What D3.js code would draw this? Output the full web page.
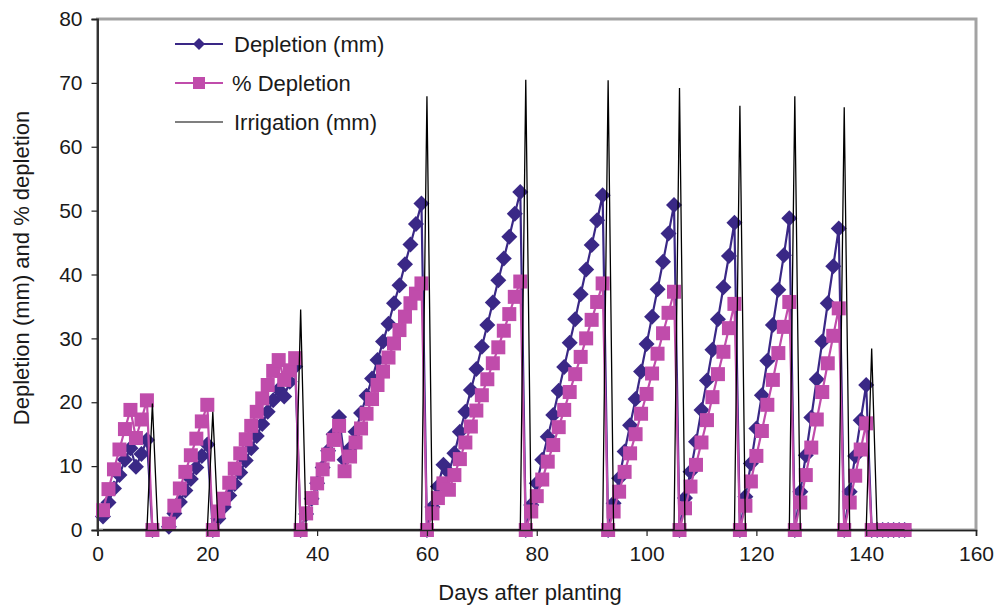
<!DOCTYPE html>
<html>
<head>
<meta charset="utf-8">
<script src="https://cdn.jsdelivr.net/npm/d3@7"></script>
<style>
  html, body { margin: 0; padding: 0; background: #fff; }
  svg { display: block; }
  text { font-family: "Liberation Sans", Arial, sans-serif; fill: #1a1a1a; }
</style>
</head>
<body>
<svg id="chart" width="1005" height="606"></svg>
<script>
// ---------------- DATA ----------------
const firstDay = 1;
const lastDay = 147;
// Depletion (mm), one value per day from day 1 to day 147 (null = no value)
const depletionMM = [
  2.1, 4.3, 6.5, 8.6, 11.0, 12.8, 9.9, 11.9, 14.1, 0,           // 1-10
  null, null, 0.5, 2.6, 4.4, 6.2, 8.0, 9.8, 11.6, 13.4,         // 11-20
  0, 1.8, 3.6, 5.4, 7.2, 9.0, 10.9, 12.8, 14.7, 16.6,           // 21-30
  18.5, 20.3, 22.0, 20.9, 23.2, 25.6, 0, 2.5, 4.9, 7.3,         // 31-40
  9.8, 12.4, 15.0, 17.7, 11.0, 12.8, 15.4, 18.3, 21.0, 23.7,    // 41-50
  26.6, 29.5, 32.3, 35.5, 38.3, 41.6, 44.7, 47.9, 51.1, 0,      // 51-60
  3.6, 6.8, 10.2, 9.0, 12.0, 15.4, 18.5, 21.9, 25.2, 28.7,      // 61-70
  32.1, 35.6, 39.1, 42.5, 45.9, 49.5, 52.9, 0, 3.9, 7.3,        // 71-80
  11.0, 14.6, 18.0, 21.8, 25.5, 29.3, 33.0, 36.9, 40.8, 44.6,   // 81-90
  48.5, 52.4, 0, 4.2, 8.1, 12.3, 16.4, 20.5, 24.8, 29.1,        // 91-100
  33.4, 37.7, 42.0, 46.4, 50.9, 0, 5.0, 9.1, 13.8, 18.8,        // 101-110
  23.4, 28.2, 33.0, 38.0, 42.9, 48.1, 0, 5.2, 10.4, 15.9,       // 111-120
  21.1, 26.5, 32.1, 37.6, 43.0, 48.8, 0, 6.0, 11.7, 17.6,       // 121-130
  23.6, 29.5, 35.5, 41.3, 47.2, 0, 6.0, 11.6, 17.2, 22.7,       // 131-140
  0, 0, 0, 0, 0, 0, 0                                           // 141-147
];
// % Depletion, one value per day from day 1 to day 147
const pctDepletion = [
  3.1, 6.4, 9.5, 12.6, 15.8, 18.8, 14.4, 17.3, 20.3, 0,         // 1-10
  null, null, 1.0, 3.8, 6.5, 9.1, 11.7, 14.3, 17.0, 19.6,       // 11-20
  0, 2.9, 4.9, 7.4, 9.6, 12.0, 14.2, 16.3, 18.5, 20.6,          // 21-30
  22.7, 24.9, 26.6, 23.5, 25.0, 26.9, 0, 2.6, 5.0, 7.3,         // 31-40
  9.5, 11.8, 14.1, 16.3, 9.2, 11.5, 13.7, 15.9, 18.2, 20.5,     // 41-50
  22.7, 24.8, 27.0, 29.2, 31.3, 33.4, 35.5, 37.0, 38.6, 0,      // 51-60
  2.6, 5.0, 7.3, 6.3, 8.6, 11.1, 13.7, 16.2, 18.7, 21.1,        // 61-70
  23.6, 26.1, 28.6, 31.2, 33.8, 36.5, 38.9, 0, 2.9, 5.3,        // 71-80
  7.9, 10.7, 13.3, 16.1, 18.8, 21.6, 24.4, 27.1, 30.0, 32.9,    // 81-90
  35.7, 38.6, 0, 2.9, 6.0, 9.1, 12.0, 15.0, 18.2, 21.3,         // 91-100
  24.5, 27.6, 30.8, 34.0, 37.3, 0, 3.4, 6.8, 10.2, 13.7,        // 101-110
  17.2, 20.8, 24.4, 27.9, 31.6, 35.4, 0, 3.8, 7.6, 11.6,        // 111-120
  15.5, 19.6, 23.5, 27.7, 31.8, 35.7, 0, 4.3, 8.6, 12.9,        // 121-130
  17.3, 21.6, 26.1, 30.4, 34.7, 0, 4.3, 8.5, 12.6, 16.7,        // 131-140
  0, 0, 0, 0, 0, 0, 0                                           // 141-147
];
// Irrigation events (mm); every other day has 0 mm
const irrigationDays = [10, 21, 37, 60, 78, 93, 106, 117, 127, 136, 141];
const irrigationMM   = [19.8, 18.5, 34.5, 67.9, 70.5, 70.4, 69.2, 66.4, 67.9, 66.2, 28.4];

const xTicks = [0, 20, 40, 60, 80, 100, 120, 140, 160];
const yTicks = [0, 10, 20, 30, 40, 50, 60, 70, 80];
const seriesNames = ["Depletion (mm)", "% Depletion", "Irrigation (mm)"];
const xTitle = "Days after planting";
const yTitle = "Depletion (mm) and % depletion";

// ---------------- BUILD TABLE ----------------
const days = d3.range(firstDay, lastDay + 1);
const irrigationByDay = new Map(irrigationDays.map((d, i) => [d, irrigationMM[i]]));
const table = days.map((d, i) => ({
  day: d,
  dep: depletionMM[i],
  pct: pctDepletion[i],
  irr: irrigationByDay.has(d) ? irrigationByDay.get(d) : 0
}));

// ---------------- CHART ----------------
const svg = d3.select("#chart");
const pLeft = 97.5, pRight = 976, pTop = 19, pBottom = 530;
const x = d3.scaleLinear().domain([0, 160]).range([pLeft, pRight]);
const y = d3.scaleLinear().domain([0, 80]).range([pBottom, pTop]);

const depColor = "#3a2886";
const pctColor = "#c04cab";
const TICKFONT = 21;
const FONT = 22;

// plot frame (grey)
svg.append("rect")
  .attr("x", pLeft).attr("y", pTop)
  .attr("width", pRight - pLeft).attr("height", pBottom - pTop)
  .attr("fill", "none").attr("stroke", "#a3a3a3").attr("stroke-width", 3);

const plot = svg.append("g");

const diamondPath = "M0,-8L8,0L0,8L-8,0Z";
const sq = 14;

// Depletion (mm)
const lineDep = d3.line().defined(d => d.dep != null).x(d => x(d.day)).y(d => y(d.dep));
plot.append("path").datum(table).attr("d", lineDep)
  .attr("fill", "none").attr("stroke", depColor).attr("stroke-width", 2.2);
plot.append("g").selectAll("path").data(table.filter(d => d.dep != null)).join("path")
  .attr("d", diamondPath)
  .attr("transform", d => `translate(${x(d.day)},${y(d.dep)})`)
  .attr("fill", depColor);

// % Depletion
const linePct = d3.line().defined(d => d.pct != null).x(d => x(d.day)).y(d => y(d.pct));
plot.append("path").datum(table).attr("d", linePct)
  .attr("fill", "none").attr("stroke", pctColor).attr("stroke-width", 2.2);
plot.append("g").selectAll("rect").data(table.filter(d => d.pct != null)).join("rect")
  .attr("x", d => x(d.day) - sq / 2).attr("y", d => y(d.pct) - sq / 2)
  .attr("width", sq).attr("height", sq)
  .attr("fill", pctColor);

// Irrigation
const lineIrr = d3.line().x(d => x(d.day)).y(d => y(d.irr));
plot.append("path").datum(table).attr("d", lineIrr)
  .attr("fill", "none").attr("stroke", "#000").attr("stroke-width", 1.3);

// ---------------- AXES ----------------
const xAxis = d3.axisBottom(x).tickValues(xTicks).tickSize(6).tickPadding(10).tickFormat(d3.format("d"));
const gx = svg.append("g").attr("transform", `translate(0,${pBottom})`).call(xAxis);
gx.select(".domain").attr("stroke", "#222").attr("stroke-width", 1.6);
gx.selectAll(".tick line").attr("stroke", "#222").attr("stroke-width", 1.2);
gx.selectAll("text").attr("font-size", TICKFONT).attr("fill", "#1a1a1a")
  .attr("font-family", "Liberation Sans, Arial, sans-serif");

const yAxis = d3.axisLeft(y).tickValues(yTicks).tickSize(6).tickPadding(9).tickFormat(d3.format("d"));
const gy = svg.append("g").attr("transform", `translate(${pLeft},0)`).call(yAxis);
gy.select(".domain").attr("stroke", "#333").attr("stroke-width", 2);
gy.selectAll(".tick line").attr("stroke", "#222").attr("stroke-width", 1.2);
gy.selectAll("text").attr("font-size", TICKFONT).attr("fill", "#1a1a1a")
  .attr("font-family", "Liberation Sans, Arial, sans-serif");

// Axis titles
svg.append("text").attr("x", 530).attr("y", 600)
  .attr("text-anchor", "middle").attr("font-size", FONT).text(xTitle);
svg.append("text")
  .attr("transform", `translate(29,268) rotate(-90)`)
  .attr("text-anchor", "middle").attr("font-size", FONT).text(yTitle);

// ---------------- LEGEND ----------------
const legendY = [44, 83, 122];
const lg = svg.append("g");
// Depletion
lg.append("line").attr("x1", 175).attr("x2", 223).attr("y1", legendY[0]).attr("y2", legendY[0])
  .attr("stroke", depColor).attr("stroke-width", 2.2);
lg.append("path").attr("d", "M0,-6L6,0L0,6L-6,0Z")
  .attr("transform", `translate(199,${legendY[0]})`).attr("fill", depColor);
// % Depletion
lg.append("line").attr("x1", 175).attr("x2", 223).attr("y1", legendY[1]).attr("y2", legendY[1])
  .attr("stroke", pctColor).attr("stroke-width", 2.2);
lg.append("rect").attr("x", 193).attr("y", legendY[1] - 6).attr("width", 12).attr("height", 12)
  .attr("fill", pctColor);
// Irrigation
lg.append("line").attr("x1", 175).attr("x2", 223).attr("y1", legendY[2]).attr("y2", legendY[2])
  .attr("stroke", "#000").attr("stroke-width", 1.2);

seriesNames.forEach((n, i) => {
  lg.append("text").attr("x", i === 1 ? 232 : 234).attr("y", legendY[i] + 7.5)
    .attr("font-size", FONT).text(n);
});
</script>
</body>
</html>
